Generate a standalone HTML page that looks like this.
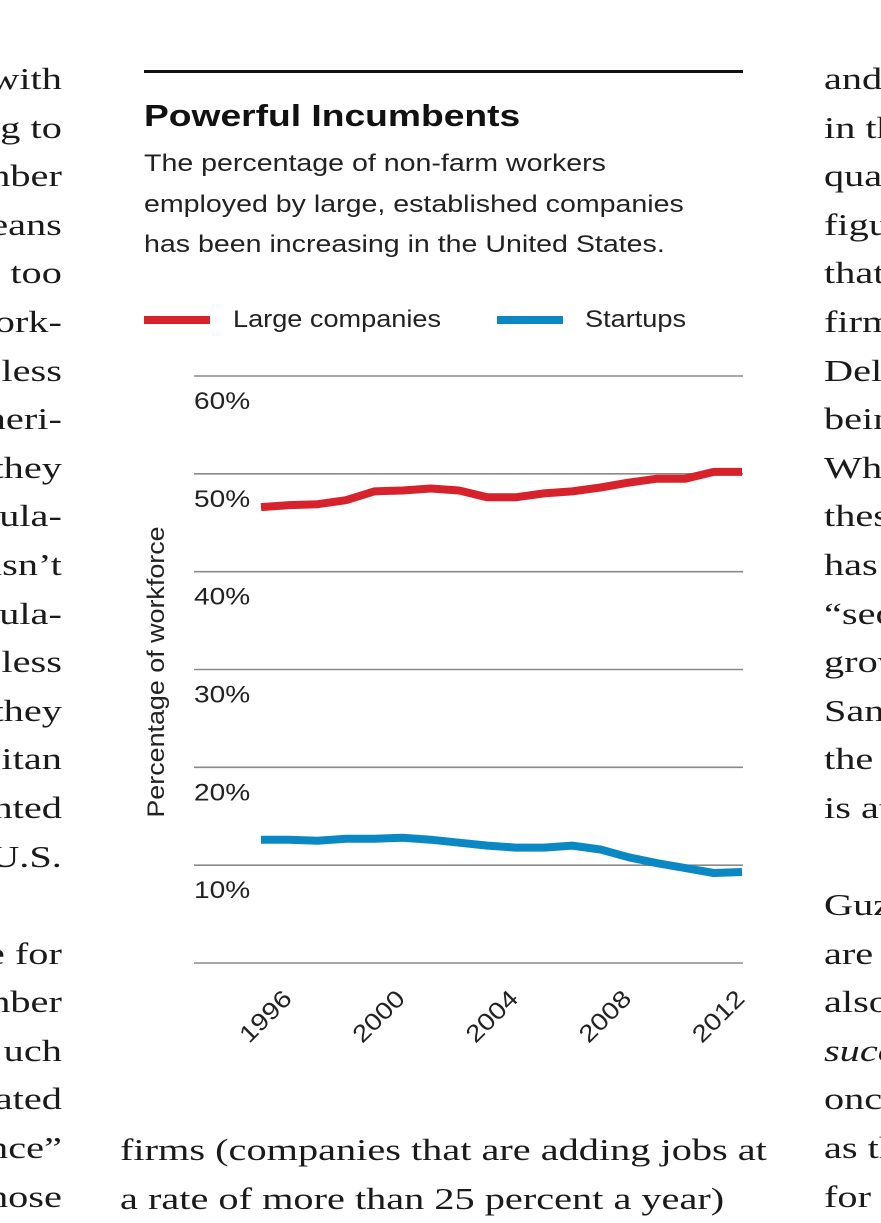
<!DOCTYPE html>
<html><head><meta charset="utf-8">
<style>
html,body{margin:0;padding:0;background:#fff;}
body{width:881px;height:1200px;position:relative;overflow:hidden;font-family:"Liberation Sans",sans-serif;}
.col{position:absolute;font-family:"Liberation Serif",serif;font-size:31px;line-height:48.6px;color:#1a1a1a;white-space:nowrap;}
#left{right:819px;top:55px;text-align:right;transform:scaleX(1.3);transform-origin:right top;}
#right{left:824px;top:55px;transform:scaleX(1.3);transform-origin:left top;}
.t{position:absolute;color:#111;white-space:nowrap;transform-origin:left top;}
</style></head><body>
<div id="left" class="col">with<br>g to<br>nber<br>eans<br>o too<br>ork-<br>less<br>neri-<br>they<br>ula-<br>isn’t<br>ula-<br>less<br>they<br>itan<br>nted<br>U.S.<br>&nbsp;<br>e for<br>nber<br>uch<br>ated<br>nce”<br>hose</div>
<div id="right" class="col">and<br>in th<br>qua<br>figu<br>that<br>firm<br>Del<br>bein<br>Wh<br>thes<br>has<br>“sec<br>grow<br>San<br>the<br>is at<br>&nbsp;<br>Guz<br>are<br>also<br><i>succ</i><br>onc<br>as th<br>for</div>
<div class="col" style="left:120px;top:1126px;transform:scaleX(1.3);transform-origin:left top;">firms (companies that are adding jobs at<br>a rate of more than 25 percent a year)</div>

<div style="position:absolute;left:144px;top:70px;width:599px;height:3px;background:#111;"></div>
<div class="t" style="left:144px;top:98px;font-size:31px;font-weight:bold;transform:scaleX(1.2);">Powerful Incumbents</div>
<div class="t" style="left:144px;top:144px;font-size:24px;line-height:40.5px;color:#222;transform:scaleX(1.19);">The percentage of non-farm workers<br>employed by large, established companies<br>has been increasing in the United States.</div>

<div style="position:absolute;left:144px;top:316px;width:66px;height:8px;background:#d7222b;"></div>
<div class="t" style="left:233px;top:306px;font-size:24px;color:#222;transform:scaleX(1.13);">Large companies</div>
<div style="position:absolute;left:497px;top:316px;width:66px;height:8px;background:#0a88c4;"></div>
<div class="t" style="left:585px;top:306px;font-size:24px;color:#222;transform:scaleX(1.13);">Startups</div>

<svg id="chart" width="881" height="1200" style="position:absolute;left:0;top:0;"></svg>
<script>
const years=[1995,1996,1997,1998,1999,2000,2001,2002,2003,2004,2005,2006,2007,2008,2009,2010,2011,2012];
const largeValues=[46.6,46.8,46.9,47.3,48.2,48.3,48.5,48.3,47.6,47.6,48.0,48.2,48.6,49.1,49.5,49.5,50.2,50.2];
const startupValues=[12.6,12.6,12.5,12.7,12.7,12.8,12.6,12.3,12.0,11.8,11.8,12.0,11.6,10.8,10.2,9.7,9.2,9.3];
const yTicks=[0,10,20,30,40,50,60];
const yTickLabels=["","10%","20%","30%","40%","50%","60%"];
const xTicks=[1996,2000,2004,2008,2012];
const xTickLabels=["1996","2000","2004","2008","2012"];

const NS="http://www.w3.org/2000/svg";
const svg=document.getElementById('chart');
function xs(yr){return 261+(yr-1995)*(742-261)/17;}
function ys(v){return 963-v*(963-376)/60;}
function mk(tag,attrs){const e=document.createElementNS(NS,tag);for(const k in attrs)e.setAttribute(k,attrs[k]);svg.appendChild(e);return e;}

yTicks.forEach((v,i)=>{
  const l=mk('line',{x1:194,x2:743,y1:ys(v),y2:ys(v),stroke:'#8a8a8a','stroke-width':1.6});
  
  
  if(yTickLabels[i]){
    const y=ys(v)+33;
    const t=mk('text',{x:0,y:0,'font-size':24,fill:'#222','font-family':'Liberation Sans, sans-serif',transform:`translate(194 ${y}) scale(1.17 1)`});
    t.textContent=yTickLabels[i];
    
    
  }
});
xTicks.forEach((yr,i)=>{
  const x=xs(yr)+4,y=1000;
  const t=mk('text',{x:0,y:0,'font-size':24,fill:'#222','text-anchor':'end','font-family':'Liberation Sans, sans-serif',transform:`translate(${x} ${y}) rotate(-45) scale(1.17 1)`});
  t.textContent=xTickLabels[i];
  
  
});
const yt=mk('text',{x:0,y:0,'font-size':24,fill:'#222','text-anchor':'middle','font-family':'Liberation Sans, sans-serif',transform:'translate(164 672) rotate(-90) scale(1.12 1)'});
yt.textContent='Percentage of workforce';



function line(vals,color,name){
  const d=vals.map((v,i)=>(i?'L':'M')+xs(years[i]).toFixed(1)+' '+ys(v).toFixed(1)).join(' ');
  const p=mk('path',{d:d,fill:'none',stroke:color,'stroke-width':8,'stroke-linejoin':'round'});
  
  
}
line(largeValues,'#d7222b','large-companies-line');
line(startupValues,'#0a88c4','startups-line');
</script>
</body></html>
